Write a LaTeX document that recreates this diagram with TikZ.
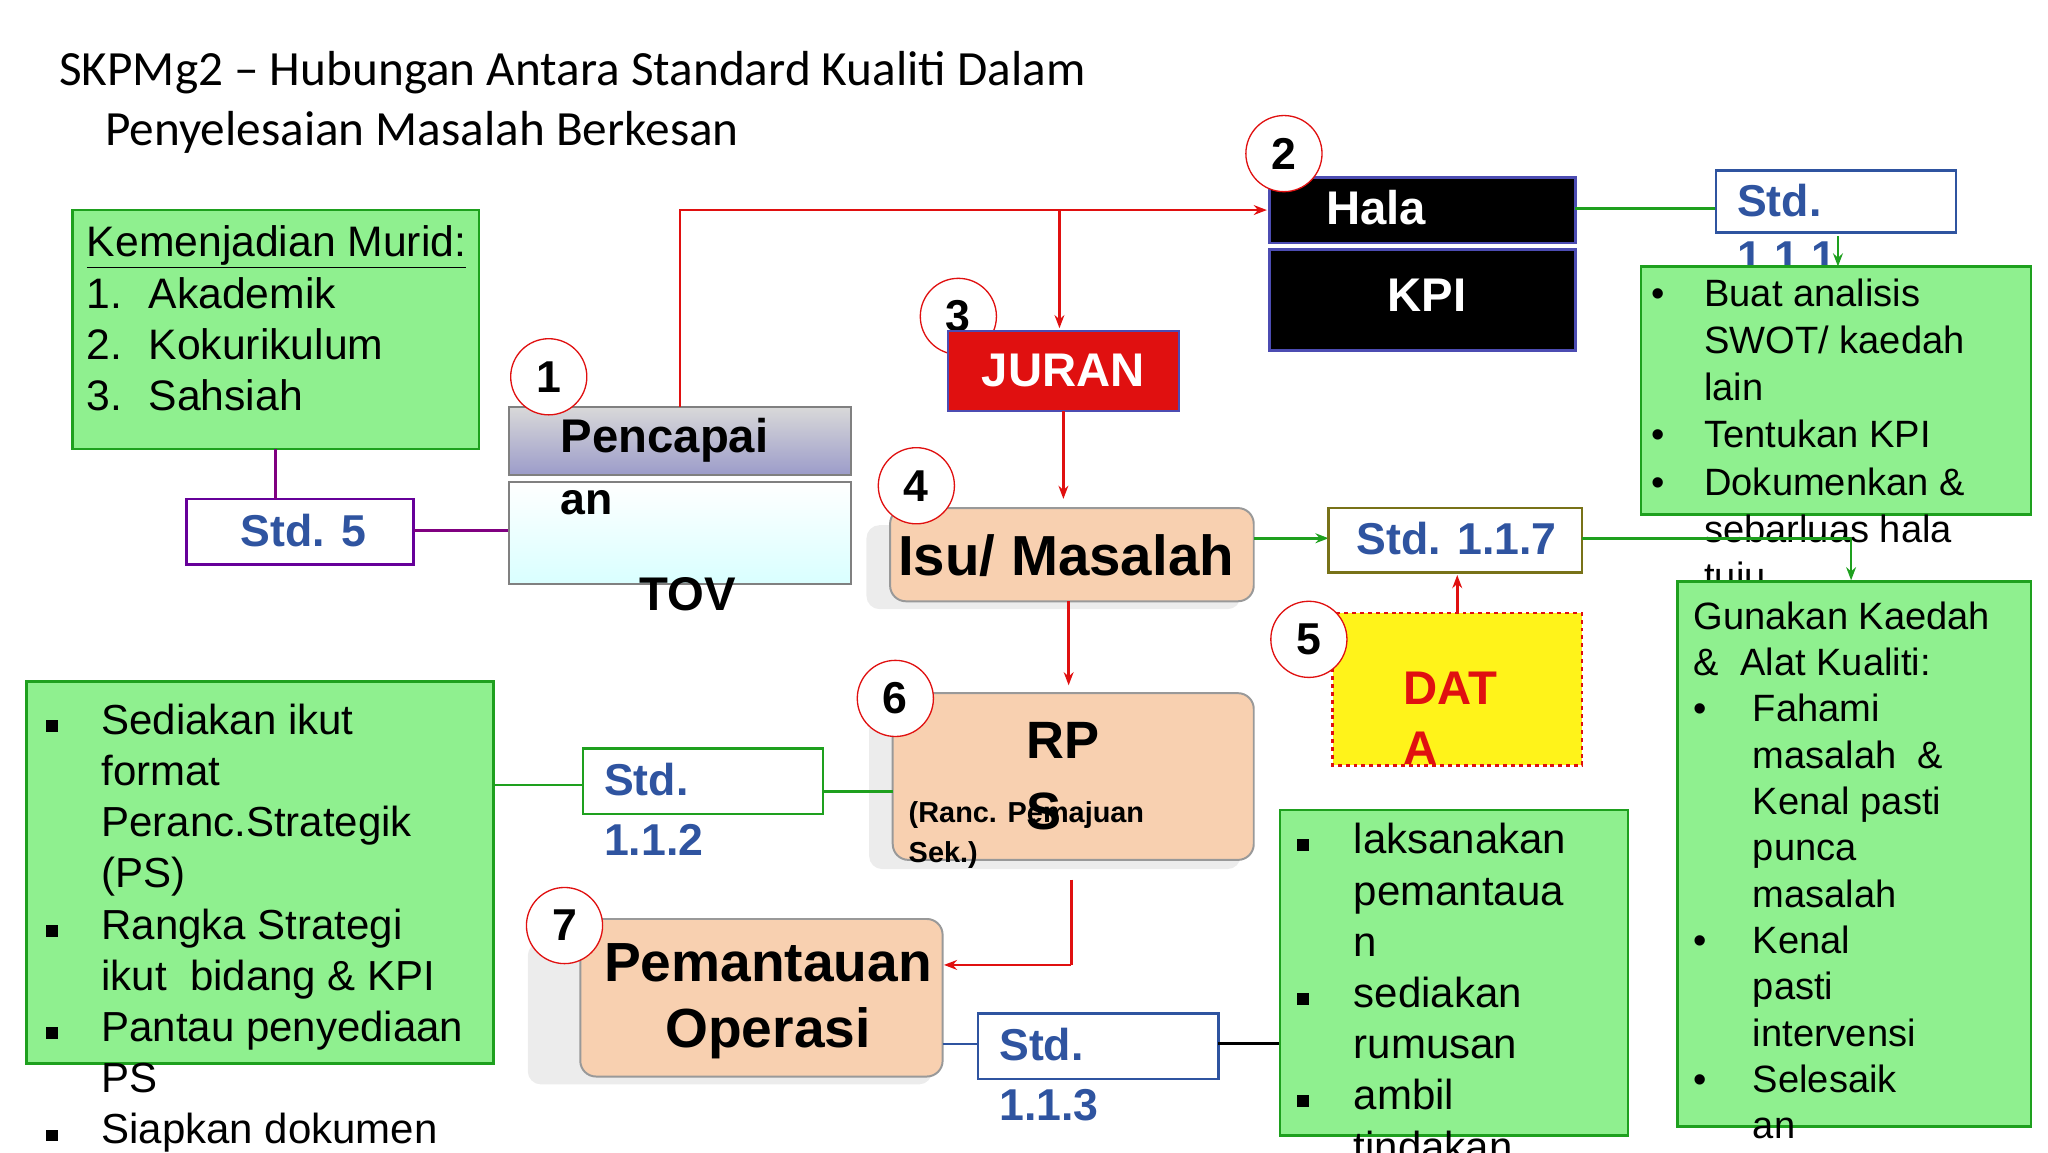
\documentclass[tikz,border=0pt]{standalone}
\usepackage{fontspec}
\setmainfont{Liberation Sans}
\newfontfamily\titlefont{Carlito}
\usetikzlibrary{arrows.meta}
\definecolor{gfill}{HTML}{8FF08F}
\definecolor{gline}{HTML}{1EA01E}
\definecolor{peach}{HTML}{F8D0B0}
\definecolor{stdblue}{HTML}{2F54A0}
\definecolor{rline}{HTML}{E01010}
\newcommand{\sqb}{\rule[2pt]{9pt}{9pt}}
\tikzset{
 gbox/.style={draw=gline,line width=2pt,fill=gfill},
 num/.style={circle,draw=rline,fill=white,line width=1pt,minimum size=58pt,inner sep=0pt,font=\fontsize{34}{34}\selectfont\bfseries},
 pbox/.style={draw=gray!80,line width=1.5pt,fill=peach,rounded corners=12pt},
 shad/.style={fill=gray!15,rounded corners=10pt},
 sbox/.style={draw=stdblue,line width=2pt,fill=white},
 stxt/.style={anchor=west,text=stdblue,font=\fontsize{34}{34}\selectfont\bfseries,inner sep=0pt},
 txt/.style={anchor=north west,align=left,inner sep=0pt,font=\fontsize{29}{36}\selectfont},
 btxt/.style={txt,font=\fontsize{32}{39}\selectfont},
 rarr/.style={draw=rline,line width=2pt,-{Stealth[length=10pt]}},
 garr/.style={draw=gline,line width=2pt,-{Stealth[length=10pt]}},
}
\begin{document}
\begin{tikzpicture}[x=1pt,y=-1pt]
\useasboundingbox (0,0) rectangle (1560,878);
\clip (0,0) rectangle (1560,878);
% title
\node[anchor=west,inner sep=0pt,font=\titlefont\fontsize{37.5}{37.5}\selectfont] (t1) at (45,55) {SKPMg2 –  Hubungan Antara Standard Kualiti Dalam};
\node[anchor=west,inner sep=0pt,font=\titlefont\fontsize{37.5}{37.5}\selectfont] (t2) at (80,101) {Penyelesaian Masalah Berkesan};
% Kemenjadian
\draw[gbox] (55,160) rectangle (365,342);
\node[txt,font=\fontsize{32.5}{39}\selectfont] (km) at (66,172) {\underline{Kemenjadian Murid:}\\1.\hspace{20pt}Akademik\\2.\hspace{20pt}Kokurikulum\\3.\hspace{20pt}Sahsiah};
\draw[sbox,draw=violet!80!blue] (142,380) rectangle (315,430);
\node[stxt] (s5) at (183,404) {Std. 5};
\draw[violet,line width=2pt] (210,342) -- (210,380);
\draw[violet,line width=2pt] (315,404) -- (387,404);
% Pencapaian
\shade[top color=gray!30,bottom color=blue!30!gray!60,draw=gray,line width=1.5pt] (388,310) rectangle (648,362);
\shade[top color=white,bottom color=cyan!15,draw=gray,line width=1.5pt] (388,367) rectangle (648,445);
\node[anchor=west,inner sep=0pt,font=\fontsize{36}{36}\selectfont\bfseries] (pc) at (427,335) {Pencapai};
\node[anchor=west,inner sep=0pt,font=\fontsize{34}{34}\selectfont\bfseries] (pc2) at (427,383) {an};
\node[anchor=west,inner sep=0pt,font=\fontsize{36}{36}\selectfont\bfseries] (tov) at (487,453) {TOV};
\node[num] (n1) at (418,287) {1};
% red lines top
\coordinate (a1) at (518,310);
\draw[rline,line width=2pt] (a1) -- (518,160) -- (807,160);
\draw[rarr] (807,160) -- (965,160);
\draw[rarr] (807,160) -- (807,250);
% Hala KPI
\draw[fill=black,draw=gray!60!blue,line width=2pt] (967,135) rectangle (1200,185);
\draw[fill=black,draw=gray!60!blue,line width=2pt] (967,190) rectangle (1200,267);
\node[anchor=west,inner sep=0pt,text=white,font=\fontsize{36}{36}\selectfont\bfseries] (hala) at (1010,158) {Hala};
\node[inner sep=0pt,text=white,font=\fontsize{36}{36}\selectfont\bfseries] (kpi) at (1087,225) {KPI};
\node[num] (n2) at (978,117) {2};
\draw[gline,line width=2pt] (1200,159) -- (1307,159);
\draw[sbox] (1307,130) rectangle (1490,177);
\node[stxt] (s111) at (1323,153) {Std.};
\node[stxt] at (1323,196) {1.1.1};
% right top green
\draw[gbox] (1250,203) rectangle (1547,392);
\node[txt] (rt) at (1258,212) {%
\makebox[40pt][l]{•}Buat analisis\\\hspace*{40pt}SWOT/ kaedah\\\hspace*{40pt}lain\\
\makebox[40pt][l]{•}Tentukan KPI\\\makebox[40pt][l]{•}Dokumenkan \&\\\hspace*{40pt}sebarluas hala\\\hspace*{40pt}tuju};
\draw[garr] (1400,180) -- (1400,203);
% JURAN
\node[num] (n3) at (730,241) {3};
\draw[fill=rline,draw=gray!60!blue,line width=1.5pt] (722,252) rectangle (898,313);
\node[text=white,inner sep=0pt,font=\fontsize{36}{36}\selectfont\bfseries] (jur) at (810,282) {JURAN};
\draw[rarr] (810,313) -- (810,380);
% Isu
\fill[shad] (660,400) rectangle (945,464);
\draw[pbox] (678,387) rectangle (955,458);
\node[anchor=west,inner sep=0pt,font=\fontsize{43}{43}\selectfont\bfseries] (isu) at (684,423) {Isu/ Masalah};
\node[num] (n4) at (698,370) {4};
\draw[garr] (955,410) -- (1012,410);
\draw[sbox,draw=olive!80!black] (1012,387) rectangle (1205,436);
\node[stxt] (s117) at (1033,410) {Std. 1.1.7};
\draw[gline,line width=2pt] (1205,410) -- (1410,410);
\draw[garr] (1410,410) -- (1410,442);
% DATA
\draw[fill=yellow!90!white,draw=rline,dashed,line width=2pt] (1015,467) rectangle (1205,583);
\node[text=rline,inner sep=0pt,font=\fontsize{36}{36}\selectfont\bfseries] (dat) at (1105,524) {DAT};
\node[text=rline,inner sep=0pt,font=\fontsize{36}{36}\selectfont\bfseries] at (1082,570) {A};
\node[num] (n5) at (997,487) {5};
\draw[rarr] (1110,467) -- (1110,438);
% right green 2
\draw[gbox] (1278,443) rectangle (1547,858);
\node[txt,font=\fontsize{29}{35.3}\selectfont] (rb) at (1290,458) {Gunakan Kaedah\\\&\ \ Alat Kualiti:\\
\makebox[45pt][l]{•}Fahami\\\hspace*{45pt}masalah \ \&\\\hspace*{45pt}Kenal pasti\\\hspace*{45pt}punca\\\hspace*{45pt}masalah\\
\makebox[45pt][l]{•}Kenal\\\hspace*{45pt}pasti\\\hspace*{45pt}intervensi\\
\makebox[45pt][l]{•}Selesaik\\\hspace*{45pt}an};
% RPS
\draw[rarr] (814,458) -- (814,522);
\fill[shad] (662,545) rectangle (945,662);
\draw[pbox] (680,528) rectangle (955,655);
\node[inner sep=0pt,font=\fontsize{40}{40}\selectfont\bfseries] (rps) at (810,564) {RP};
\node[inner sep=0pt,font=\fontsize{40}{40}\selectfont\bfseries] at (795,618) {S};
\node[txt,font=\fontsize{22}{31}\selectfont\bfseries] (rnc) at (692,610) {(Ranc. Pemajuan\\Sek.)};
\node[num] (n6) at (682,532) {6};
% left bottom green
\draw[gbox] (20,519) rectangle (376,810);
\node[btxt] (lb) at (35,536) {%
\makebox[42pt][l]{\sqb}Sediakan ikut\\\hspace*{42pt}format\\\hspace*{42pt}Peranc.Strategik\\\hspace*{42pt}(PS)\\
\makebox[42pt][l]{\sqb}Rangka Strategi\\\hspace*{42pt}ikut \ bidang \& KPI\\
\makebox[42pt][l]{\sqb}Pantau penyediaan\\\hspace*{42pt}PS\\
\makebox[42pt][l]{\sqb}Siapkan dokumen};
\draw[gline,line width=2pt] (376,598) -- (444,598);
\draw[sbox,draw=gline] (444,570) rectangle (627,620);
\node[stxt] (s112) at (460,594) {Std.};
\node[stxt] at (460,640) {1.1.2};
\draw[gline,line width=2pt] (627,603) -- (680,603);
% Pemantauan
\coordinate (r6) at (816,670);
\draw[rline,line width=2pt] (r6) -- (816,735);
\draw[rarr] (816,735) -- (719,735);
\fill[shad] (402,718) rectangle (710,826);
\draw[pbox] (442,700) rectangle (718,820);
\node[inner sep=0pt,font=\fontsize{42}{42}\selectfont\bfseries] (pem) at (585,733) {Pemantauan};
\node[inner sep=0pt,font=\fontsize{42}{42}\selectfont\bfseries] at (585,787) {Operasi};
\node[num] (n7) at (430,705) {7};
\draw[stdblue,line width=1.5pt] (718,795) -- (745,795);
\draw[sbox] (745,772) rectangle (928,822);
\node[stxt] (s113) at (761,796) {Std.};
\node[stxt] at (761,842) {1.1.3};
\draw[black,line width=2pt] (928,795) -- (975,795);
% bottom right green
\draw[gbox] (975,617) rectangle (1240,865);
\node[btxt] (mb) at (988,627) {%
\makebox[43pt][l]{\sqb}laksanakan\\\hspace*{43pt}pemantaua\\\hspace*{43pt}n\\
\makebox[43pt][l]{\sqb}sediakan\\\hspace*{43pt}rumusan\\
\makebox[43pt][l]{\sqb}ambil\\\hspace*{43pt}tindakan};
\end{tikzpicture}
\end{document}
